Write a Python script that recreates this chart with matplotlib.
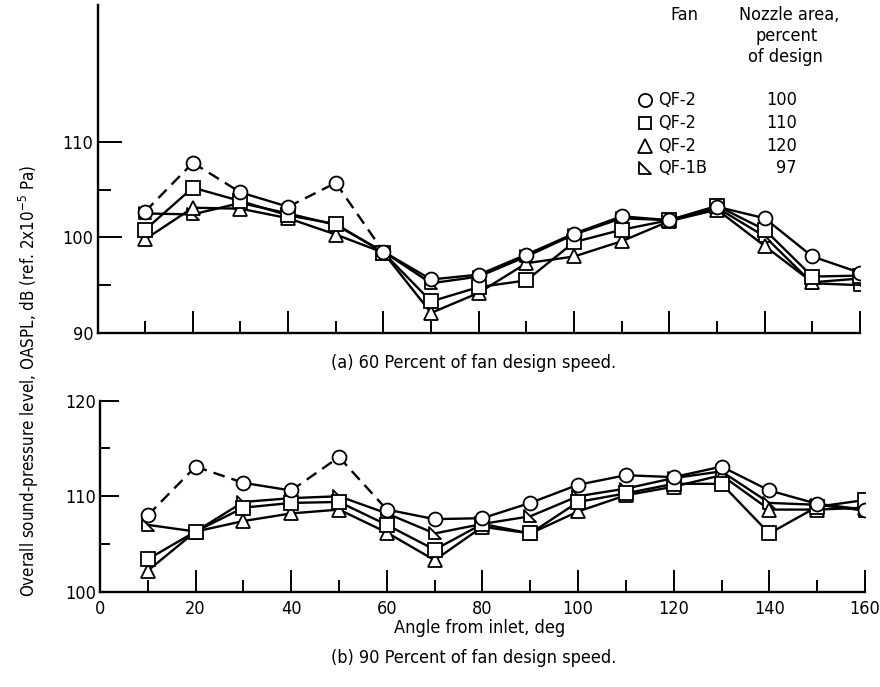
import matplotlib

matplotlib.use("Agg")
import matplotlib.pyplot as plt
from matplotlib.lines import Line2D
from matplotlib.path import Path

plt.rcParams["font.family"] = ["DejaVu Sans"]
plt.rcParams["font.stretch"] = "condensed"
plt.rcParams["mathtext.fontset"] = "custom"
plt.rcParams["mathtext.rm"] = "DejaVu Sans:stretch=condensed"

# Angle from inlet, deg
angle = [10, 20, 30, 40, 50, 60, 70, 80, 90, 100, 110, 120, 130, 140, 150, 160]

# (a) 60 percent of fan design speed, OASPL in dB
a_qf2_100 = [102.7, 107.8, 104.7, 103.2, 105.7, 98.5, 95.6, 96.1, 98.2, 100.4, 102.2, 101.8, 103.2, 102.0, 98.0, 96.3]
a_qf2_110 = [100.8, 105.2, 103.8, 102.3, 101.4, 98.4, 93.3, 94.8, 95.5, 99.5, 100.8, 101.8, 103.3, 100.8, 95.9, 96.0]
a_qf2_120 = [99.8, 103.1, 103.0, 102.0, 100.3, 98.4, 92.1, 94.2, 97.3, 98.0, 99.6, 101.7, 102.9, 99.1, 95.3, 95.7]
a_qf1b_97 = [102.5, 102.4, 103.6, 102.5, 101.3, 98.5, 95.2, 95.9, 98.0, 100.3, 102.0, 101.8, 103.1, 100.1, 95.2, 95.0]

# (b) 90 percent of fan design speed, OASPL in dB
b_qf2_100 = [108.0, 113.1, 111.4, 110.6, 114.1, 108.6, 107.6, 107.7, 109.3, 111.2, 112.2, 112.0, 113.1, 110.6, 109.2, 108.6]
b_qf2_110 = [103.4, 106.3, 108.8, 109.3, 109.4, 107.0, 104.4, 107.1, 106.1, 109.4, 110.3, 111.3, 111.3, 106.1, 108.9, 109.6]
b_qf2_120 = [102.2, 106.3, 107.4, 108.2, 108.6, 106.2, 103.3, 106.8, 106.1, 108.4, 110.1, 111.0, 112.2, 108.6, 108.6, 108.8]
b_qf1b_97 = [107.0, 106.3, 109.4, 109.8, 110.0, 108.2, 106.1, 107.1, 107.9, 110.0, 110.8, 111.9, 112.6, 109.3, 109.1, 108.5]

# segments of the 100-percent curve drawn dashed
circle_dashed = [True, True, False, True, True, False, False, False, False, False, False, False, False, False, False]

fans = ["QF-2", "QF-2", "QF-2", "QF-1B"]
nozzle_area = ["100", "110", "120", "97"]

# half-triangle marker used for the QF-1B fan
half_tri = Path([(-1, 1), (-1, -1), (1, -1), (-1, 1)],
                [Path.MOVETO, Path.LINETO, Path.LINETO, Path.CLOSEPOLY])
markers = ["o", "s", "^", half_tri]
msizes = [10, 9.5, 10, 8.5]

LW = 1.7
FS = 13


def draw_series(ax, series):
    for i, ys in enumerate(series):
        if i == 0:
            for k in range(len(angle) - 1):
                ax.plot(angle[k:k + 2], ys[k:k + 2], color="black", lw=LW,
                        ls=(0, (5, 3)) if circle_dashed[k] else "-", zorder=2)
        else:
            ax.plot(angle, ys, color="black", lw=LW, zorder=2)
    for ys, mk, ms in reversed(list(zip(series, markers, msizes))):
        ax.plot(angle, ys, ls="none", marker=mk, ms=ms, mfc="white",
                mec="black", mew=1.3, zorder=3)


def style_axes(ax, major_len, minor_len):
    for side in ("top", "right"):
        ax.spines[side].set_visible(False)
    for side in ("left", "bottom"):
        ax.spines[side].set_linewidth(LW)
    ax.set_xlim(0, 160)
    ax.set_xticks(range(0, 161, 20))
    ax.set_xticks(range(10, 160, 20), minor=True)
    ax.tick_params(axis="both", which="major", direction="in", length=major_len,
                   width=1.4, labelsize=FS, pad=3)
    ax.tick_params(axis="both", which="minor", direction="in", length=minor_len,
                   width=1.4)
    ax.tick_params(axis="x", which="major", length=16)
    ax.tick_params(axis="x", which="minor", length=9)


fig = plt.figure(figsize=(8.8, 6.87), dpi=100)

# (a) 60 percent speed
ax1 = fig.add_axes([0.1108, 0.5153, 0.8665, 0.4774])
draw_series(ax1, [a_qf2_100, a_qf2_110, a_qf2_120, a_qf1b_97])
style_axes(ax1, 17, 9)
ax1.set_ylim(90, 124.3)
ax1.set_yticks([90, 100, 110])
ax1.set_yticks([95, 105], minor=True)
ax1.tick_params(axis="x", labelbottom=False)

# (b) 90 percent speed
ax2 = fig.add_axes([0.1136, 0.1387, 0.8693, 0.278])
draw_series(ax2, [b_qf2_100, b_qf2_110, b_qf2_120, b_qf1b_97])
style_axes(ax2, 14, 7)
ax2.set_ylim(100, 120)
ax2.set_yticks([100, 110, 120])
ax2.set_yticks([105, 115], minor=True)
ax2.tick_params(axis="x", which="major", pad=6)


def fx(px):
    return px / 880


def fy(py):
    return 1 - py / 687


fig.text(fx(474), fy(363), "(a) 60 Percent of fan design speed.", ha="center", va="center", fontsize=FS)
fig.text(fx(480), fy(628), "Angle from inlet, deg", ha="center", va="center", fontsize=FS)
fig.text(fx(474), fy(658), "(b) 90 Percent of fan design speed.", ha="center", va="center", fontsize=FS)
fig.text(fx(29), fy(381), r"Overall sound-pressure level, OASPL, dB (ref. 2x10$^{-5}$ Pa)",
         rotation=90, ha="center", va="center", fontsize=12.2)

# key
fig.text(fx(684), fy(15), "Fan", ha="center", va="center", fontsize=FS)
fig.text(fx(789), fy(15), "Nozzle area,", ha="center", va="center", fontsize=FS)
fig.text(fx(787), fy(36), "percent", ha="center", va="center", fontsize=FS)
fig.text(fx(785), fy(57), "of design", ha="center", va="center", fontsize=FS)
rows = [100, 123, 146, 168]
for py, mk, ms, fan, area in zip(rows, markers, msizes, fans, nozzle_area):
    fig.add_artist(Line2D([fx(645)], [fy(py)], transform=fig.transFigure, ls="none",
                          marker=mk, ms=ms * 0.95, mfc="white", mec="black", mew=1.3))
    fig.text(fx(658), fy(py), fan, ha="left", va="center", fontsize=FS)
    fig.text(fx(797), fy(py), area, ha="right", va="center", fontsize=FS)

fig.savefig("out.png", dpi=100)
